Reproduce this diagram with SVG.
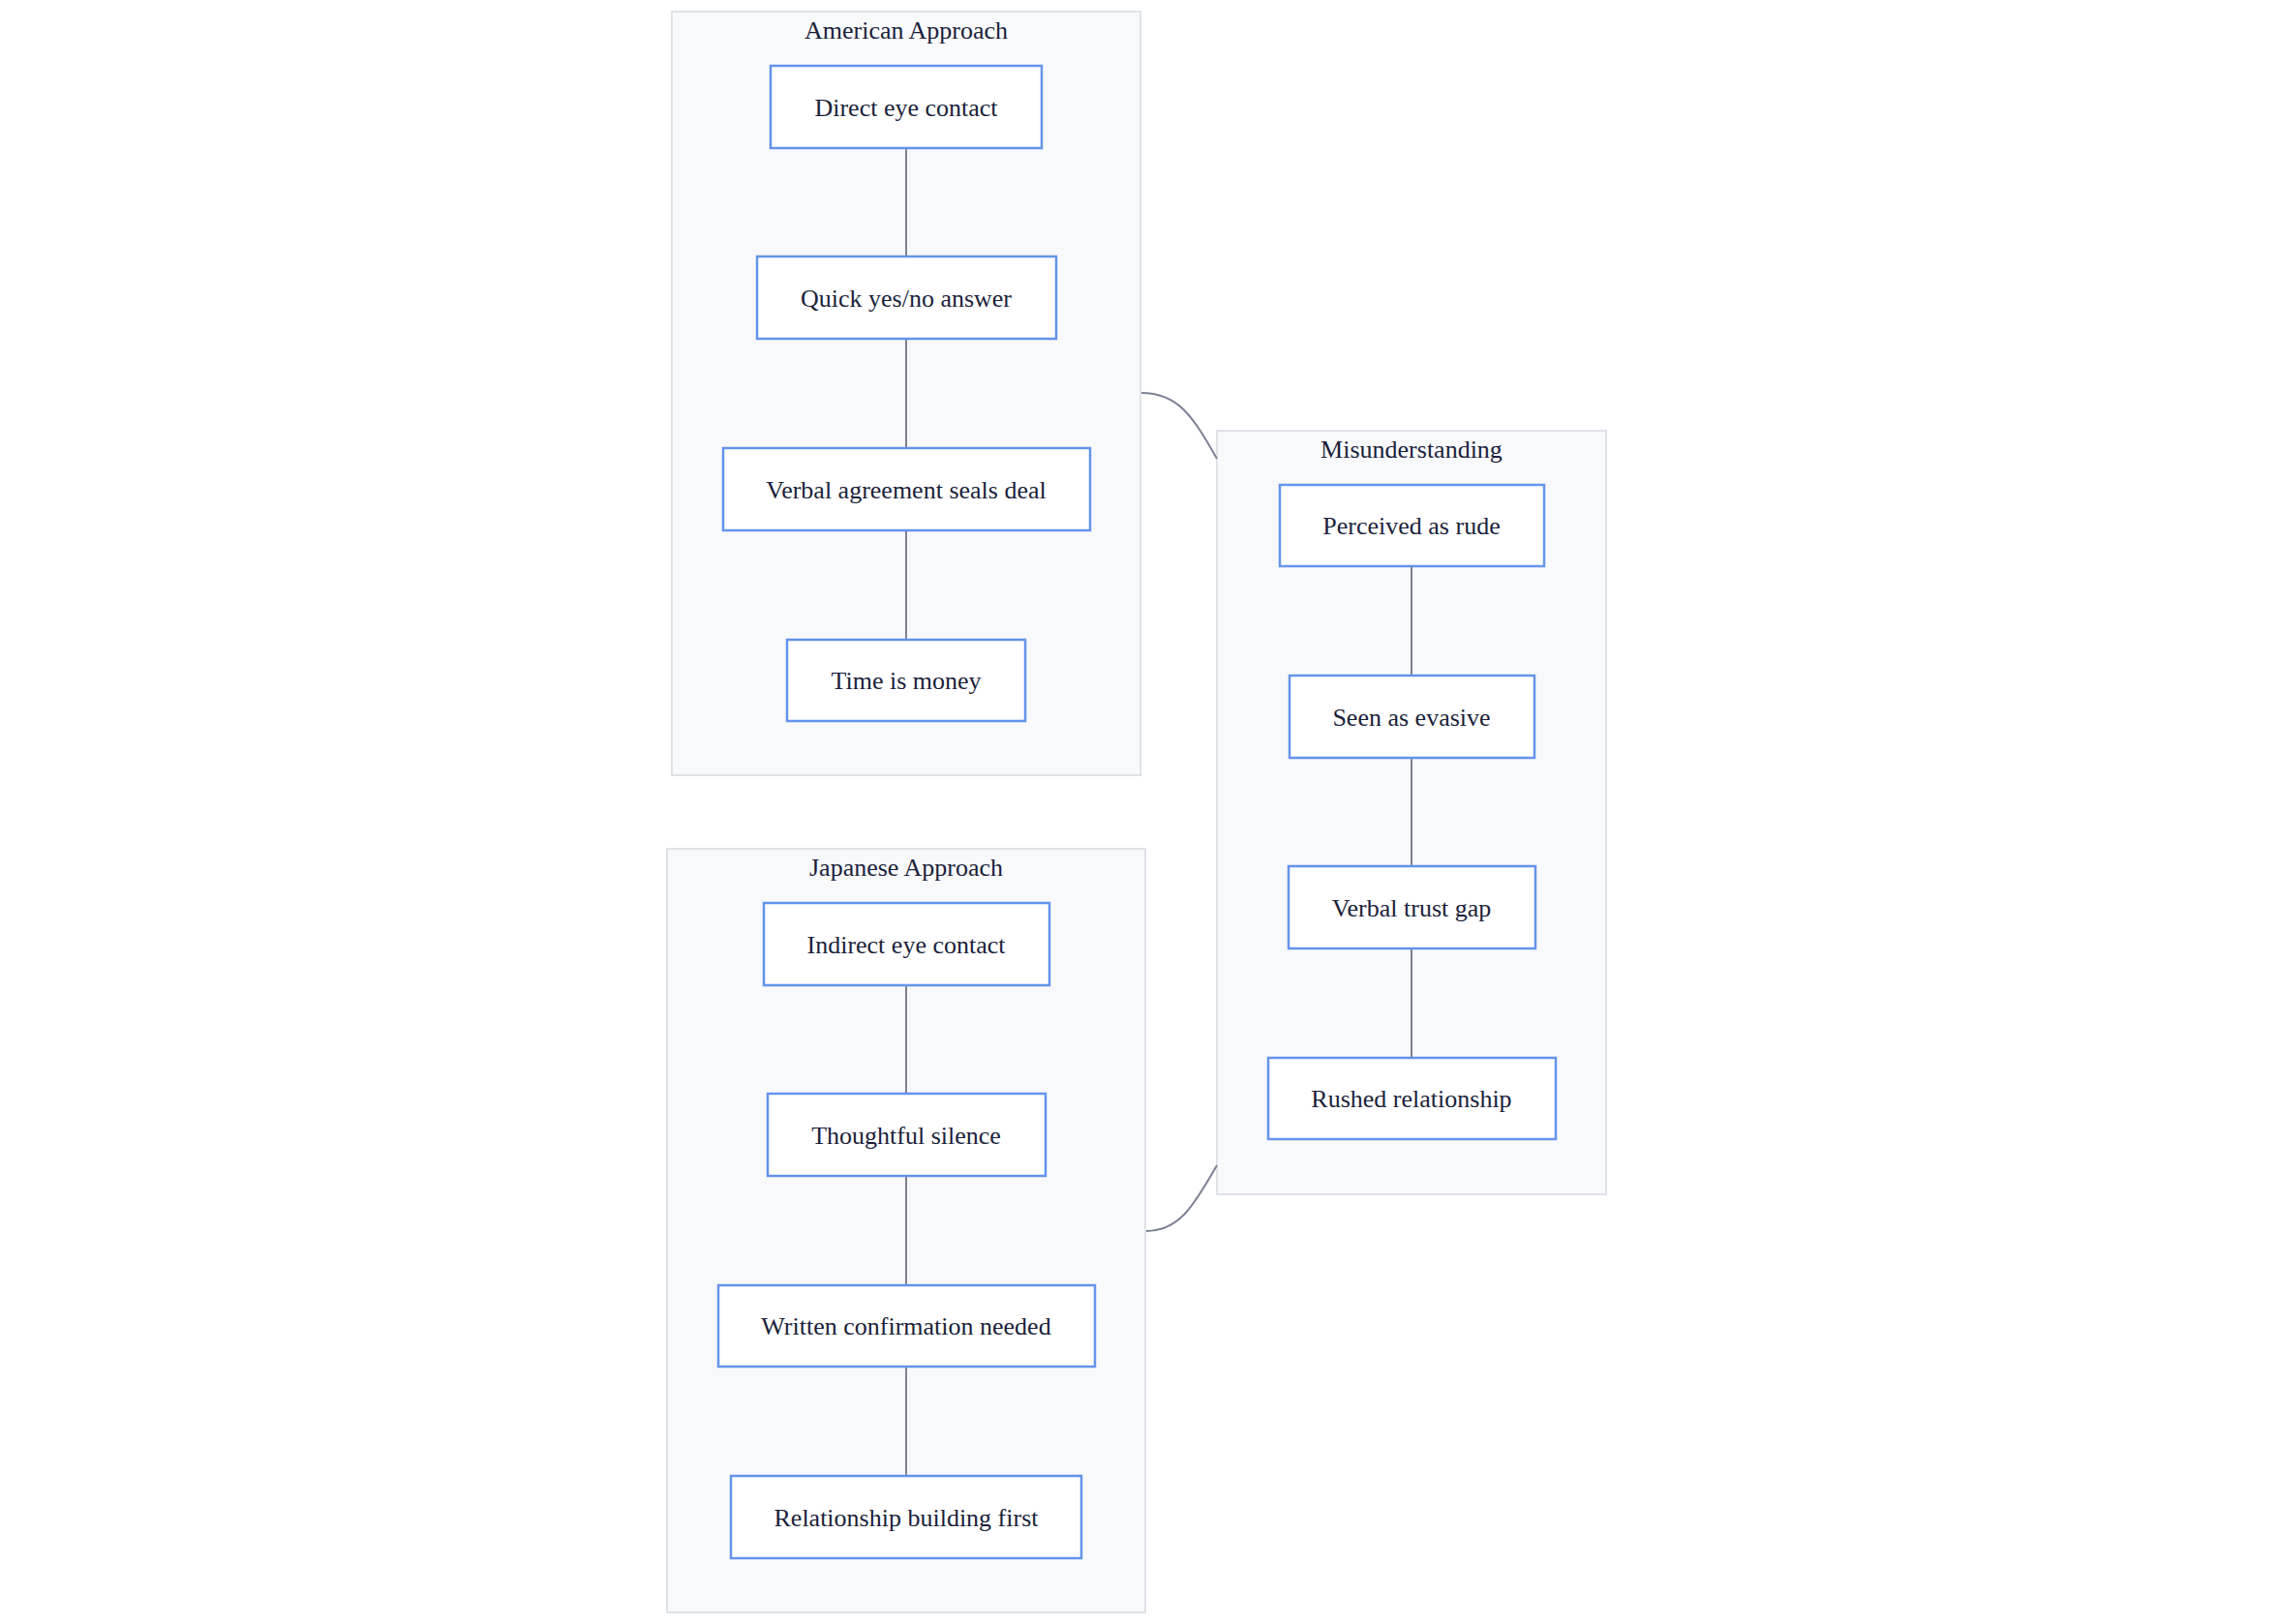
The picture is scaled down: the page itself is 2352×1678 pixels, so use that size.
<svg xmlns="http://www.w3.org/2000/svg" width="2352" height="1678" viewBox="0 0 2352 1678">
<style>
.cl{fill:#f8f9fb;stroke:#dfe3e8;stroke-width:2}
.nd{fill:#ffffff;stroke:#6494ea;stroke-width:2.5}
.t{font-family:"Liberation Serif","Times New Roman",serif;font-size:26px;fill:#1b1f3b;text-anchor:middle;dominant-baseline:central}
.e{fill:none;stroke:#7c8293;stroke-width:2}
</style>
<rect width="2352" height="1678" fill="#ffffff"/>
<g id="cluster-american"><rect class="cl" x="694" y="12" width="484" height="789"/><text class="t" x="936" y="31">American Approach</text></g>
<g id="cluster-japanese"><rect class="cl" x="689" y="877" width="494" height="789"/><text class="t" x="936" y="896">Japanese Approach</text></g>
<g id="cluster-mis"><rect class="cl" x="1257" y="445" width="402" height="789"/><text class="t" x="1458" y="464">Misunderstanding</text></g>
<g id="connectors">
<path class="e" d="M936 153V265M936 350V463M936 548V661"/>
<path class="e" d="M936 1018V1130M936 1215V1328M936 1412V1525"/>
<path class="e" d="M1458 585V698M1458 783V895M1458 980V1093"/>
<path class="e" d="M1179 406C1217 406 1232 430 1257 474"/>
<path class="e" d="M1184 1272C1217 1272 1232 1248 1257 1204"/>
</g>
<g id="n-direct"><rect class="nd" x="796" y="68" width="280" height="85"/><text class="t" x="936" y="111">Direct eye contact</text></g>
<g id="n-quick"><rect class="nd" x="782" y="265" width="309" height="85"/><text class="t" x="936" y="308">Quick yes/no answer</text></g>
<g id="n-verbal"><rect class="nd" x="747" y="463" width="379" height="85"/><text class="t" x="936" y="506">Verbal agreement seals deal</text></g>
<g id="n-time"><rect class="nd" x="813" y="661" width="246" height="84"/><text class="t" x="936" y="703">Time is money</text></g>
<g id="n-indirect"><rect class="nd" x="789" y="933" width="295" height="85"/><text class="t" x="936" y="976">Indirect eye contact</text></g>
<g id="n-silence"><rect class="nd" x="793" y="1130" width="287" height="85"/><text class="t" x="936" y="1173">Thoughtful silence</text></g>
<g id="n-written"><rect class="nd" x="742" y="1328" width="389" height="84"/><text class="t" x="936" y="1370">Written confirmation needed</text></g>
<g id="n-relbuild"><rect class="nd" x="755" y="1525" width="362" height="85"/><text class="t" x="936" y="1568">Relationship building first</text></g>
<g id="n-rude"><rect class="nd" x="1322" y="501" width="273" height="84"/><text class="t" x="1458" y="543">Perceived as rude</text></g>
<g id="n-evasive"><rect class="nd" x="1332" y="698" width="253" height="85"/><text class="t" x="1458" y="741">Seen as evasive</text></g>
<g id="n-trust"><rect class="nd" x="1331" y="895" width="255" height="85"/><text class="t" x="1458" y="938">Verbal trust gap</text></g>
<g id="n-rushed"><rect class="nd" x="1310" y="1093" width="297" height="84"/><text class="t" x="1458" y="1135">Rushed relationship</text></g>
</svg>
